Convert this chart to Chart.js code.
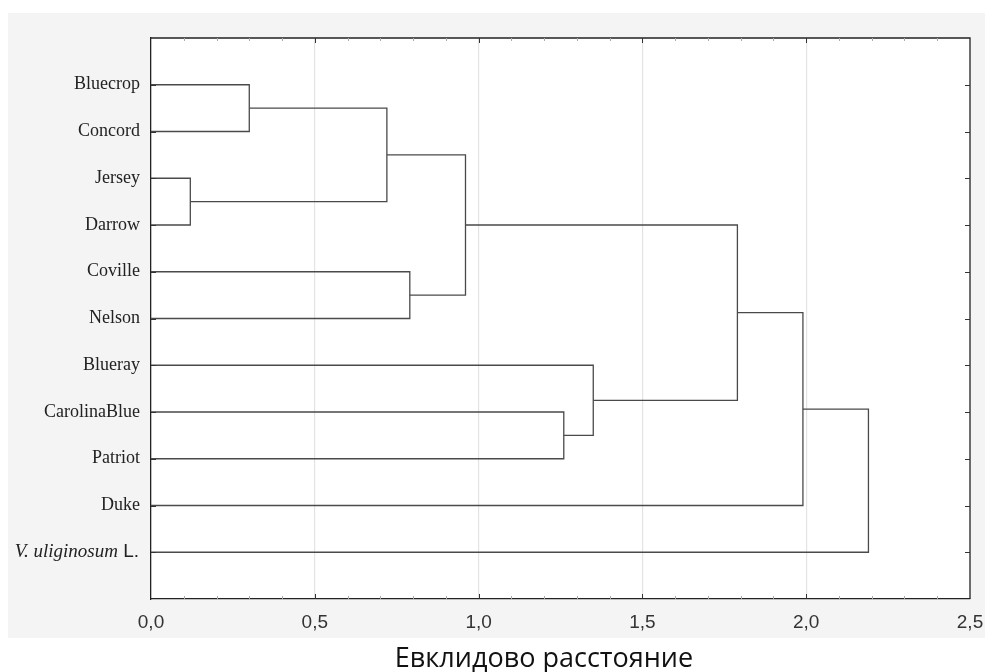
<!DOCTYPE html>
<html>
<head>
<meta charset="utf-8">
<script src="https://cdn.jsdelivr.net/npm/chart.js@4.4.1/dist/chart.umd.min.js"></script>
<style>
  body { margin: 0; background: #fff; }
  #wrap { width: 985px; height: 672px; position: relative; }
</style>
</head>
<body>
<div id="wrap"><canvas id="dendro"></canvas></div>
<script>
// leaves, top to bottom
const leaves = ['Bluecrop', 'Concord', 'Jersey', 'Darrow', 'Coville', 'Nelson',
    'Blueray', 'CarolinaBlue', 'Patriot', 'Duke', 'V. uliginosum'];
// merges: node ids 0..10 are leaves, 11.. are clusters in merge order
const mergeA = [0, 2, 11, 4, 13, 7, 6, 15, 18, 19];
const mergeB = [1, 3, 12, 5, 14, 8, 16, 17, 9, 10];
const mergeHeight = [0.30, 0.12, 0.72, 0.79, 0.96, 1.26, 1.35, 1.79, 1.99, 2.19];
const xTicks = [0, 0.5, 1.0, 1.5, 2.0, 2.5];

// node positions
var nodeX = leaves.map(() => 0);
var nodeY = leaves.map((l, i) => i + 1);
var datasets = [];
mergeHeight.forEach(function (h, k) {
    var a = mergeA[k], b = mergeB[k];
    datasets.push({
        data: [
            {x: nodeX[a], y: nodeY[a]},
            {x: h, y: nodeY[a]},
            {x: h, y: nodeY[b]},
            {x: nodeX[b], y: nodeY[b]}
        ],
        showLine: true,
        borderColor: '#4a4a4a',
        borderWidth: 1.3,
        pointRadius: 0,
        tension: 0,
        fill: false
    });
    nodeX.push(h);
    nodeY.push((nodeY[a] + nodeY[b]) / 2);
});

const frame = {
    id: 'frame',
    beforeDraw(chart) {
        const {ctx, chartArea: c} = chart;
        ctx.save();
        ctx.fillStyle = '#fff';
        ctx.fillRect(0, 0, chart.width, chart.height);
        ctx.fillStyle = '#f4f4f4';
        ctx.fillRect(8, 13, chart.width - 8, 625);
        ctx.fillStyle = '#fff';
        ctx.fillRect(c.left, c.top, c.right - c.left, c.bottom - c.top);
        ctx.restore();
    },
    afterDraw(chart) {
        const {ctx, chartArea: c, scales: {x, y}} = chart;
        ctx.save();
        ctx.strokeStyle = '#222';
        ctx.lineWidth = 1.3;
        ctx.beginPath();
        ctx.moveTo(c.left, c.top); ctx.lineTo(c.right, c.top); ctx.lineTo(c.right, c.bottom);
        ctx.stroke();

        // minor ticks every 0.1 on top and bottom, inward
        for (var i = 1; i < 25; i++) {
            var px = Math.round(x.getPixelForValue(i / 10)) + 0.5;
            var major = i % 5 === 0;
            ctx.strokeStyle = major ? '#333' : '#aaa';
            ctx.lineWidth = 1;
            var len = major ? 5 : 3;
            ctx.beginPath();
            ctx.moveTo(px, c.bottom); ctx.lineTo(px, c.bottom - len);
            ctx.moveTo(px, c.top); ctx.lineTo(px, c.top + len);
            ctx.stroke();
        }
        // row ticks left and right, inward
        ctx.strokeStyle = '#333';
        leaves.forEach(function (l, i) {
            var py = Math.round(y.getPixelForValue(i + 1)) + 0.5;
            ctx.beginPath();
            ctx.moveTo(c.left, py); ctx.lineTo(c.left + 5, py);
            ctx.moveTo(c.right, py); ctx.lineTo(c.right - 5, py);
            ctx.stroke();
        });

        // leaf labels
        ctx.fillStyle = '#222';
        ctx.textBaseline = 'middle';
        ctx.textAlign = 'right';
        leaves.forEach(function (l, i) {
            var py = y.getPixelForValue(i + 1);
            if (i === leaves.length - 1) {
                ctx.font = '19px "Liberation Sans"';
                var tail = ' L.';
                ctx.fillText(tail, 139, py);
                var w = ctx.measureText(tail).width;
                ctx.font = 'italic 19px "Liberation Serif"';
                ctx.fillText(l, 139 - w, py);
            } else {
                ctx.font = '18px "Liberation Serif"';
                ctx.fillText(l, 140, py);
            }
        });

        // axis title
        ctx.textAlign = 'center';
        ctx.textBaseline = 'alphabetic';
        ctx.font = '27px "Open Sans"';
        ctx.fillStyle = '#111';
        ctx.fillText('Евклидово расстояние', 544, 667);
        ctx.restore();
    }
};

new Chart(document.getElementById('dendro'), {
    type: 'scatter',
    data: {datasets: datasets},
    plugins: [frame],
    options: {
        responsive: true,
        maintainAspectRatio: false,
        animation: false,
        layout: {padding: {top: 38, right: 15, left: 0, bottom: 0}},
        plugins: {legend: {display: false}, tooltip: {enabled: false}},
        scales: {
            x: {
                type: 'linear',
                min: 0,
                max: 2.5,
                afterBuildTicks: function (scale) {
                    scale.ticks = xTicks.map(v => ({value: v}));
                },
                afterFit: function (scale) {
                    scale.height = 73;
                    scale.paddingLeft = 0;
                    scale.paddingRight = 0;
                },
                ticks: {
                    autoSkip: false,
                    maxRotation: 0,
                    padding: 12,
                    color: '#333',
                    font: {family: '"Liberation Sans"', size: 19},
                    callback: v => v.toFixed(1).replace('.', ',')
                },
                grid: {
                    drawTicks: false,
                    color: ctx => (ctx.tick && ctx.tick.value > 0 && ctx.tick.value < 2.5) ? '#e3e3e3' : 'rgba(0,0,0,0)',
                    lineWidth: 1.2
                },
                border: {display: true, color: '#222', width: 1.3}
            },
            y: {
                type: 'linear',
                min: 0,
                max: 12,
                reverse: true,
                afterBuildTicks: function (scale) {
                    scale.ticks = leaves.map((l, i) => ({value: i + 1}));
                },
                afterFit: function (scale) { scale.width = 151; },
                ticks: {display: false},
                grid: {display: false},
                border: {display: true, color: '#222', width: 1.3}
            }
        }
    }
});
</script>
</body>
</html>
